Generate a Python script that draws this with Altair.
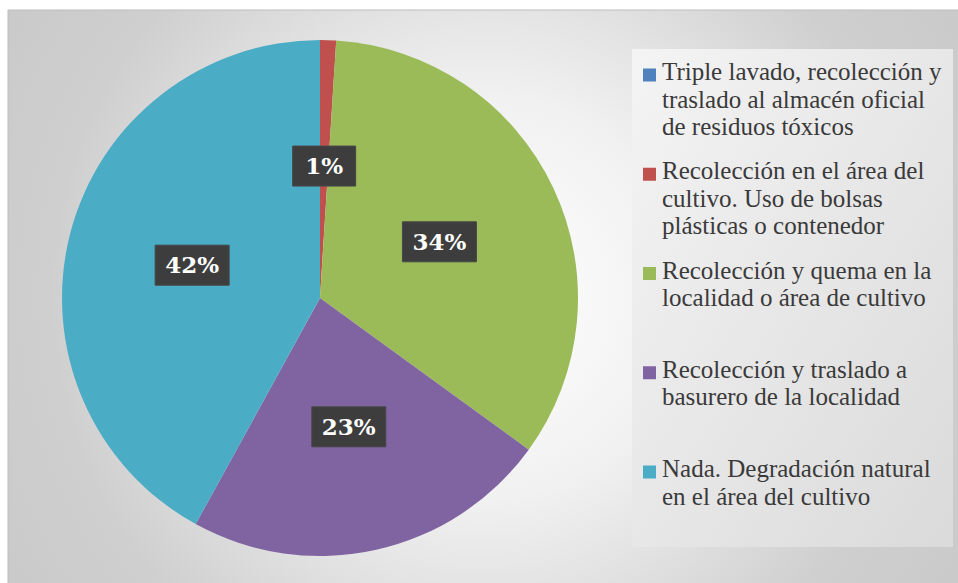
import altair as alt
import pandas as pd

# ---------------- data ----------------
categories = [
    "Triple lavado, recolección y traslado al almacén oficial de residuos tóxicos",
    "Recolección en el área del cultivo. Uso de bolsas plásticas o contenedor",
    "Recolección y quema en la localidad o área de cultivo",
    "Recolección y traslado a basurero de la localidad",
    "Nada. Degradación natural en el área del cultivo",
]
legend_labels = [
    "Triple lavado, recolección y\ntraslado al almacén oficial\nde residuos tóxicos",
    "Recolección en el área del\ncultivo. Uso de bolsas\nplásticas o contenedor",
    "Recolección y quema en la\nlocalidad o área de cultivo",
    "Recolección y traslado a\nbasurero de la localidad",
    "Nada. Degradación natural\nen el área del cultivo",
]
values = [0, 1, 34, 23, 42]
colors = ["#4f81bd", "#c0504d", "#9bbb59", "#8064a2", "#4bacc6"]

df = pd.DataFrame({
    "categoria": categories,
    "leyenda": legend_labels,
    "valor": values,
    "idx": list(range(len(categories))),
})

FONT = "Liberation Serif"
LABEL_FONT = "DejaVu Serif"
CX, CY, R, RL = 320, 298, 258, 132

color_scale = alt.Scale(domain=categories, range=colors)
base = alt.Chart(df)
one = alt.Chart(pd.DataFrame({"a": [0]}))

# ---------------- background ----------------
bg = one.mark_rect(
    stroke="#bdbdbd", strokeWidth=1,
    fill={
        "gradient": "radial",
        "x1": 0.5, "y1": 0.5, "r1": 0,
        "x2": 0.5, "y2": 0.5, "r2": 0.7,
        "stops": [
            {"offset": 0, "color": "#ffffff"},
            {"offset": 0.3, "color": "#f1f1f1"},
            {"offset": 0.65, "color": "#cfcfcf"},
            {"offset": 1, "color": "#c5c5c5"},
        ],
    },
).encode(x=alt.value(8), x2=alt.value(960), y=alt.value(10), y2=alt.value(585))

legend_box = one.mark_rect(
    fill={
        "gradient": "linear",
        "x1": 0, "y1": 0, "x2": 1, "y2": 1,
        "stops": [
            {"offset": 0, "color": "#f4f4f4"},
            {"offset": 1, "color": "#dadada"},
        ],
    },
).encode(x=alt.value(632), x2=alt.value(953), y=alt.value(49), y2=alt.value(547))

# ---------------- pie ----------------
pie = base.mark_arc(outerRadius=R).encode(
    theta=alt.Theta("valor:Q", stack=True),
    color=alt.Color("categoria:N", scale=color_scale, legend=None),
    order=alt.Order("idx:Q"),
    x=alt.value(CX),
    y=alt.value(CY),
)

labels_base = (
    base.transform_joinaggregate(total="sum(valor)")
    .transform_window(cum="sum(valor)", sort=[alt.SortField("idx")], frame=[None, 0])
    .transform_filter("datum.valor > 0")
    .transform_calculate(
        mid="(datum.cum - datum.valor / 2) / datum.total * 2 * PI",
        txt="format(datum.valor / datum.total, '.0%')",
    )
    .transform_calculate(
        lx=f"{CX} + {RL} * sin(datum.mid)",
        ly=f"{CY} - {RL} * cos(datum.mid)",
        w="41 + 11 * length(datum.txt)",
    )
    .transform_calculate(
        bx1="datum.lx - datum.w / 2",
        bx2="datum.lx + datum.w / 2",
        by1="datum.ly - 20",
        by2="datum.ly + 20",
    )
)

shadow = labels_base.mark_rect(fill="#000000", opacity=0.25, xOffset=7, yOffset=7).encode(
    x=alt.X("bx1:Q", scale=None), x2="bx2:Q",
    y=alt.Y("by1:Q", scale=None), y2="by2:Q",
)
box = labels_base.mark_rect(fill="#3d3d3d", stroke="#484848", strokeWidth=1).encode(
    x=alt.X("bx1:Q", scale=None), x2="bx2:Q",
    y=alt.Y("by1:Q", scale=None), y2="by2:Q",
)
label_text = labels_base.mark_text(
    font=LABEL_FONT, fontSize=23, fontWeight="bold", color="white",
    align="center", baseline="middle", dy=1,
).encode(
    x=alt.X("lx:Q", scale=None),
    y=alt.Y("ly:Q", scale=None),
    text="txt:N",
)

# ---------------- legend ----------------
leg_y = alt.Y("idx:Q", scale=alt.Scale(domain=[0, 4], range=[80, 477]), axis=None)
leg_sym = base.mark_square(size=169, opacity=1, yOffset=-5).encode(
    x=alt.value(649.5),
    y=leg_y,
    color=alt.Color("categoria:N", scale=color_scale, legend=None),
)
leg_txt = base.mark_text(
    font=FONT, fontSize=25, color="#3a3a3a", align="left",
    baseline="alphabetic", lineBreak="\n", lineHeight=27.5,
).encode(
    x=alt.value(662),
    y=leg_y,
    text="leyenda:N",
)

chart = (
    alt.layer(bg, legend_box, pie, shadow, box, label_text, leg_sym, leg_txt)
    .resolve_scale(y="independent", x="independent")
    .properties(width=958, height=583, padding=0, autosize=alt.AutoSizeParams(type="none"), background="white")
    .configure_view(stroke=None)
)

chart.save("out.html", embed_options={"renderer": "svg", "actions": False})
